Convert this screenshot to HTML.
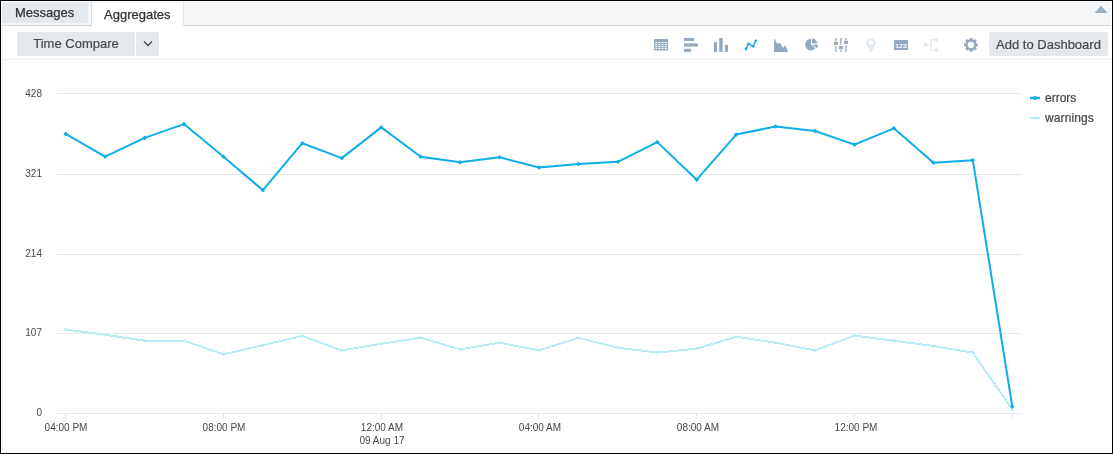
<!DOCTYPE html>
<html><head><meta charset="utf-8"><title>Aggregates</title>
<style>
html,body{margin:0;padding:0;}
body{width:1113px;height:454px;overflow:hidden;background:#fff;font-family:"Liberation Sans",sans-serif;color:#444;position:relative;}
.frame{position:absolute;left:0;top:0;width:1111px;height:452px;border:1px solid #000;pointer-events:none;z-index:10;}
.tabbar{position:absolute;left:2px;top:2px;width:1109px;height:23px;background:#f4f6f8;border-bottom:1px solid #d5d7d9;}
.tab{position:absolute;font-size:13px;line-height:15px;color:#333;white-space:nowrap;-webkit-text-stroke:0.25px #333;}
.tab.msg{left:2px;top:2px;width:86px;height:21px;background:#e4e9ed;}
.tab.msg span{position:absolute;left:13px;top:3px;}
.tabsep{position:absolute;left:91px;top:2px;width:1px;height:23px;background:#dfe3e6;}
.tab.agg{left:92px;top:1px;width:91px;height:25px;background:#fff;border-right:1px solid #e0e6eb;}
.tab.agg span{position:absolute;left:12px;top:6px;}
.btn{position:absolute;top:32px;height:24px;background:#e4e9ed;border-radius:2px;font-size:13px;line-height:24px;color:#484848;-webkit-text-stroke:0.2px #484848;text-align:center;white-space:nowrap;}
.hr{position:absolute;left:2px;top:59px;width:1109px;height:1px;background:#ebeff3;}
.vl{position:absolute;left:2px;top:26px;width:1px;height:426px;background:#f1f4f7;}
svg{position:absolute;left:0;top:0;}
svg text{font-family:"Liberation Sans",sans-serif;}
</style></head><body>
<div class="tabbar"></div>
<div class="tab msg"><span>Messages</span></div>
<div class="tabsep"></div>
<div class="tab agg"><span>Aggregates</span></div>
<div class="btn" style="left:17px;width:118px;border-radius:2px 0 0 2px;">Time Compare</div>
<div class="btn" style="left:136px;width:23px;border-radius:0 2px 2px 0;"></div>
<div class="btn" style="left:989px;width:119px;"><span style="position:relative;top:1px;">Add to Dashboard</span></div>
<div class="hr"></div><div class="vl"></div>
<svg width="1113" height="454" viewBox="0 0 1113 454">
<!-- collapse triangle -->
<polygon points="1094.5,13 1101,5.8 1107.5,13" fill="#9bb0c4"/>
<!-- chevron -->
<polyline points="144,41.5 148,45.5 152,41.5" fill="none" stroke="#4a4a4a" stroke-width="1.4"/>
<g id="icons"><rect x="654" y="39" width="14" height="11.6" rx="1" fill="#94a9bf"/>
<rect x="655.3" y="42.05" width="2" height="1.1" fill="#fff"/>
<rect x="658.5" y="42.05" width="2" height="1.1" fill="#fff"/>
<rect x="661.6" y="42.05" width="2" height="1.1" fill="#fff"/>
<rect x="664.7" y="42.05" width="2" height="1.1" fill="#fff"/>
<rect x="655.3" y="44.05" width="2" height="1.1" fill="#fff"/>
<rect x="658.5" y="44.05" width="2" height="1.1" fill="#fff"/>
<rect x="661.6" y="44.05" width="2" height="1.1" fill="#fff"/>
<rect x="664.7" y="44.05" width="2" height="1.1" fill="#fff"/>
<rect x="655.3" y="46.05" width="2" height="1.1" fill="#fff"/>
<rect x="658.5" y="46.05" width="2" height="1.1" fill="#fff"/>
<rect x="661.6" y="46.05" width="2" height="1.1" fill="#fff"/>
<rect x="664.7" y="46.05" width="2" height="1.1" fill="#fff"/>
<rect x="655.3" y="48.05" width="2" height="1.1" fill="#fff"/>
<rect x="658.5" y="48.05" width="2" height="1.1" fill="#fff"/>
<rect x="661.6" y="48.05" width="2" height="1.1" fill="#fff"/>
<rect x="664.7" y="48.05" width="2" height="1.1" fill="#fff"/>
<rect x="684" y="38" width="10" height="3" fill="#94a9bf"/><rect x="684" y="43.4" width="13.8" height="3.2" fill="#94a9bf"/><rect x="684" y="48.8" width="6.9" height="3.1" fill="#94a9bf"/>
<rect x="714" y="41.9" width="3.1" height="10" fill="#94a9bf"/><rect x="719.2" y="38.1" width="3.5" height="13.8" fill="#94a9bf"/><rect x="724.8" y="45.1" width="3.2" height="6.8" fill="#94a9bf"/>
<polyline points="746.0,49.0 748.5,43.8 753.2,46.3 755.8,40.8" fill="none" stroke="#1ba7e5" stroke-width="1.4" stroke-linejoin="round"/><circle cx="746.0" cy="49.0" r="1.4" fill="#1ba7e5"/><circle cx="748.5" cy="43.8" r="1.4" fill="#1ba7e5"/><circle cx="753.2" cy="46.3" r="1.4" fill="#1ba7e5"/><circle cx="755.8" cy="40.8" r="1.4" fill="#1ba7e5"/>
<polygon points="774.0,51.9 774.0,39.0 774.8,39.3 777.1,43.6 779.8,43.1 780.6,43.8 782.6,47.6 783.8,47.6 784.6,45.8 785.6,45.8 787.9,51.4 787.9,51.9" fill="#94a9bf"/>
<path d="M811.0,44.6 L811.00,38.80 A5.8,5.8 0 1,0 815.44,48.33Z" fill="#94a9bf"/>
<path d="M812.1,43.6 L812.10,38.50 A5.1,5.1 0 0,1 817.20,43.60Z" fill="#94a9bf"/>
<path d="M812.2,44.75 L818.10,44.75 A5.9,5.9 0 0,1 817.03,48.13Z" fill="#94a9bf"/>
<rect x="835.0" y="38" width="1.8" height="3.3" fill="#b3c2d1"/>
<rect x="835.0" y="46" width="1.8" height="5.9" fill="#b3c2d1"/>
<rect x="840.0" y="38" width="1.8" height="6.8" fill="#b3c2d1"/>
<rect x="840.0" y="49.6" width="1.8" height="2.3" fill="#b3c2d1"/>
<rect x="845.1" y="38" width="1.8" height="2.4" fill="#b3c2d1"/>
<rect x="845.1" y="45" width="1.8" height="6.9" fill="#b3c2d1"/>
<rect x="834" y="41.8" width="3.8" height="3.2" fill="#94a9bf"/><rect x="839.1" y="46" width="3.8" height="3.1" fill="#94a9bf"/><rect x="844.1" y="40.8" width="3.9" height="3.2" fill="#94a9bf"/>
<path d="M870.15,51.9 L866.75,45.1 A4.7,4.7 0 1,1 875.05,45.1 L871.65,51.9Z M868.7,42.65 a2.2,2.2 0 1,0 4.4,0 a2.2,2.2 0 1,0 -4.4,0Z" fill="#e1e8ee" fill-rule="evenodd"/>
<rect x="894" y="39.9" width="14" height="10.1" rx="0.5" fill="#94a9bf"/><text x="901" y="47.5" text-anchor="middle" font-size="6.2" font-weight="bold" fill="#fff" textLength="11.6" lengthAdjust="spacingAndGlyphs">123</text>
<g fill="#e1e8ee"><rect x="924" y="43" width="3.1" height="3.6"/><rect x="927" y="44.2" width="4" height="1.2"/><rect x="930.4" y="39" width="1.4" height="11.6"/><rect x="931" y="39" width="3.6" height="1.3"/><rect x="931" y="49.3" width="3.6" height="1.3"/><rect x="934.5" y="38" width="3.4" height="3.5"/><rect x="934.5" y="48.3" width="3.4" height="3.6"/></g>
<path d="M969.53,39.60 L969.60,37.99 L972.40,37.99 L972.47,39.60 L973.71,40.11 L974.90,39.02 L976.88,41.00 L975.79,42.19 L976.30,43.43 L977.91,43.50 L977.91,46.30 L976.30,46.37 L975.79,47.61 L976.88,48.80 L974.90,50.78 L973.71,49.69 L972.47,50.20 L972.40,51.81 L969.60,51.81 L969.53,50.20 L968.29,49.69 L967.10,50.78 L965.12,48.80 L966.21,47.61 L965.70,46.37 L964.09,46.30 L964.09,43.50 L965.70,43.43 L966.21,42.19 L965.12,41.00 L967.10,39.02 L968.29,40.11Z M967.85,44.90 a3.15,3.15 0 1,0 6.3,0 a3.15,3.15 0 1,0 -6.3,0Z" fill="#94a9bf" fill-rule="evenodd"/></g>
<g id="chart">
<line x1="57" x2="1022" y1="93.5" y2="93.5" stroke="#e3e8ec" stroke-width="1"/><line x1="57" x2="1022" y1="174.5" y2="174.5" stroke="#e3e8ec" stroke-width="1"/><line x1="57" x2="1022" y1="254.5" y2="254.5" stroke="#e3e8ec" stroke-width="1"/><line x1="57" x2="1022" y1="333.5" y2="333.5" stroke="#e3e8ec" stroke-width="1"/><line x1="57" x2="1022" y1="413.5" y2="413.5" stroke="#e3e8ec" stroke-width="1"/>
<line x1="65.5" x2="65.5" y1="413" y2="419" stroke="#dde5ea" stroke-width="1"/><line x1="223.5" x2="223.5" y1="413" y2="419" stroke="#dde5ea" stroke-width="1"/><line x1="381.5" x2="381.5" y1="413" y2="419" stroke="#dde5ea" stroke-width="1"/><line x1="538.5" x2="538.5" y1="413" y2="419" stroke="#dde5ea" stroke-width="1"/><line x1="696.5" x2="696.5" y1="413" y2="419" stroke="#dde5ea" stroke-width="1"/><line x1="854.5" x2="854.5" y1="413" y2="419" stroke="#dde5ea" stroke-width="1"/><line x1="1012.5" x2="1012.5" y1="413" y2="419" stroke="#dde5ea" stroke-width="1"/>
<g font-size="10" fill="#484848"><text x="42" y="97" text-anchor="end">428</text><text x="42" y="177" text-anchor="end">321</text><text x="42" y="257" text-anchor="end">214</text><text x="42" y="336" text-anchor="end">107</text><text x="42" y="416" text-anchor="end">0</text><text x="66" y="431" text-anchor="middle">04:00 PM</text><text x="224" y="431" text-anchor="middle">08:00 PM</text><text x="382" y="431" text-anchor="middle">12:00 AM</text><text x="540" y="431" text-anchor="middle">04:00 AM</text><text x="698" y="431" text-anchor="middle">08:00 AM</text><text x="856" y="431" text-anchor="middle">12:00 PM</text><text x="382" y="444" text-anchor="middle">09 Aug 17</text></g>
<polyline points="65.7,329.5 105.1,334.8 144.6,340.7 184.0,340.7 223.5,354.3 262.9,345.2 302.3,335.9 341.8,350.4 381.2,343.8 420.7,337.7 460.1,349.4 499.5,342.7 539.0,350.4 578.4,337.9 617.9,347.8 657.3,352.5 696.7,348.7 736.2,336.8 775.6,342.7 815.1,350.4 854.5,335.7 893.9,340.7 933.4,346.0 972.8,352.6 1012.3,409.3" fill="none" stroke="#b8ebf3" stroke-width="2" stroke-linejoin="round" shape-rendering="crispEdges"/>
<polygon points="63.8,329.5 65.7,327.6 67.6,329.5 65.7,331.4" fill="#b8ebf3"/><polygon points="103.2,334.8 105.1,332.9 107.0,334.8 105.1,336.7" fill="#b8ebf3"/><polygon points="142.7,340.7 144.6,338.8 146.5,340.7 144.6,342.6" fill="#b8ebf3"/><polygon points="182.1,340.7 184.0,338.8 185.9,340.7 184.0,342.6" fill="#b8ebf3"/><polygon points="221.6,354.3 223.5,352.4 225.4,354.3 223.5,356.2" fill="#b8ebf3"/><polygon points="261.0,345.2 262.9,343.3 264.8,345.2 262.9,347.1" fill="#b8ebf3"/><polygon points="300.4,335.9 302.3,334.0 304.2,335.9 302.3,337.8" fill="#b8ebf3"/><polygon points="339.9,350.4 341.8,348.5 343.7,350.4 341.8,352.3" fill="#b8ebf3"/><polygon points="379.3,343.8 381.2,341.9 383.1,343.8 381.2,345.7" fill="#b8ebf3"/><polygon points="418.8,337.7 420.7,335.8 422.6,337.7 420.7,339.6" fill="#b8ebf3"/><polygon points="458.2,349.4 460.1,347.5 462.0,349.4 460.1,351.3" fill="#b8ebf3"/><polygon points="497.6,342.7 499.5,340.8 501.4,342.7 499.5,344.6" fill="#b8ebf3"/><polygon points="537.1,350.4 539.0,348.5 540.9,350.4 539.0,352.3" fill="#b8ebf3"/><polygon points="576.5,337.9 578.4,336.0 580.3,337.9 578.4,339.8" fill="#b8ebf3"/><polygon points="616.0,347.8 617.9,345.9 619.8,347.8 617.9,349.7" fill="#b8ebf3"/><polygon points="655.4,352.5 657.3,350.6 659.2,352.5 657.3,354.4" fill="#b8ebf3"/><polygon points="694.8,348.7 696.7,346.8 698.6,348.7 696.7,350.6" fill="#b8ebf3"/><polygon points="734.3,336.8 736.2,334.9 738.1,336.8 736.2,338.7" fill="#b8ebf3"/><polygon points="773.7,342.7 775.6,340.8 777.5,342.7 775.6,344.6" fill="#b8ebf3"/><polygon points="813.2,350.4 815.1,348.5 817.0,350.4 815.1,352.3" fill="#b8ebf3"/><polygon points="852.6,335.7 854.5,333.8 856.4,335.7 854.5,337.6" fill="#b8ebf3"/><polygon points="892.0,340.7 893.9,338.8 895.8,340.7 893.9,342.6" fill="#b8ebf3"/><polygon points="931.5,346.0 933.4,344.1 935.3,346.0 933.4,347.9" fill="#b8ebf3"/><polygon points="970.9,352.6 972.8,350.7 974.7,352.6 972.8,354.5" fill="#b8ebf3"/><polygon points="1010.4,409.3 1012.3,407.4 1014.2,409.3 1012.3,411.2" fill="#b8ebf3"/>
<polyline points="65.7,133.9 105.1,156.6 144.6,137.9 184.0,124.1 223.5,156.8 262.9,190.2 302.3,143.2 341.8,158.1 381.2,127.4 420.7,156.8 460.1,162.3 499.5,157.3 539.0,167.5 578.4,163.9 617.9,161.8 657.3,142.1 696.7,179.7 736.2,134.6 775.6,126.5 815.1,131.0 854.5,144.6 893.9,128.3 933.4,162.7 972.8,160.2 1012.3,406.5" fill="none" stroke="#0eaee8" stroke-width="2" stroke-linejoin="round"/>
<polygon points="63.4,133.9 65.7,131.6 68.0,133.9 65.7,136.2" fill="#0eaee8"/><polygon points="102.8,156.6 105.1,154.3 107.4,156.6 105.1,158.9" fill="#0eaee8"/><polygon points="142.3,137.9 144.6,135.6 146.9,137.9 144.6,140.2" fill="#0eaee8"/><polygon points="181.7,124.1 184.0,121.8 186.3,124.1 184.0,126.4" fill="#0eaee8"/><polygon points="221.2,156.8 223.5,154.5 225.8,156.8 223.5,159.1" fill="#0eaee8"/><polygon points="260.6,190.2 262.9,187.9 265.2,190.2 262.9,192.5" fill="#0eaee8"/><polygon points="300.0,143.2 302.3,140.9 304.6,143.2 302.3,145.5" fill="#0eaee8"/><polygon points="339.5,158.1 341.8,155.8 344.1,158.1 341.8,160.4" fill="#0eaee8"/><polygon points="378.9,127.4 381.2,125.1 383.5,127.4 381.2,129.7" fill="#0eaee8"/><polygon points="418.4,156.8 420.7,154.5 423.0,156.8 420.7,159.1" fill="#0eaee8"/><polygon points="457.8,162.3 460.1,160.0 462.4,162.3 460.1,164.6" fill="#0eaee8"/><polygon points="497.2,157.3 499.5,155.0 501.8,157.3 499.5,159.6" fill="#0eaee8"/><polygon points="536.7,167.5 539.0,165.2 541.3,167.5 539.0,169.8" fill="#0eaee8"/><polygon points="576.1,163.9 578.4,161.6 580.7,163.9 578.4,166.2" fill="#0eaee8"/><polygon points="615.6,161.8 617.9,159.5 620.2,161.8 617.9,164.1" fill="#0eaee8"/><polygon points="655.0,142.1 657.3,139.8 659.6,142.1 657.3,144.4" fill="#0eaee8"/><polygon points="694.4,179.7 696.7,177.4 699.0,179.7 696.7,182.0" fill="#0eaee8"/><polygon points="733.9,134.6 736.2,132.3 738.5,134.6 736.2,136.9" fill="#0eaee8"/><polygon points="773.3,126.5 775.6,124.2 777.9,126.5 775.6,128.8" fill="#0eaee8"/><polygon points="812.8,131.0 815.1,128.7 817.4,131.0 815.1,133.3" fill="#0eaee8"/><polygon points="852.2,144.6 854.5,142.3 856.8,144.6 854.5,146.9" fill="#0eaee8"/><polygon points="891.6,128.3 893.9,126.0 896.2,128.3 893.9,130.6" fill="#0eaee8"/><polygon points="931.1,162.7 933.4,160.4 935.7,162.7 933.4,165.0" fill="#0eaee8"/><polygon points="970.5,160.2 972.8,157.9 975.1,160.2 972.8,162.5" fill="#0eaee8"/><polygon points="1010.0,406.5 1012.3,404.2 1014.6,406.5 1012.3,408.8" fill="#0eaee8"/>
</g>
<g id="legend">
<line x1="1030" x2="1040" y1="98" y2="98" stroke="#0eaee8" stroke-width="2.4"/><circle cx="1035" cy="98" r="2" fill="#0eaee8"/>
<line x1="1030" x2="1040" y1="118" y2="118" stroke="#b8ebf3" stroke-width="2"/><circle cx="1035" cy="118" r="1.6" fill="#b8ebf3"/>
<g font-size="12" fill="#444" stroke="#444" stroke-width="0.2"><text x="1045" y="102">errors</text><text x="1045" y="122" textLength="48.8">warnings</text></g>
</g>
</svg>
<div class="frame"></div>
</body></html>
